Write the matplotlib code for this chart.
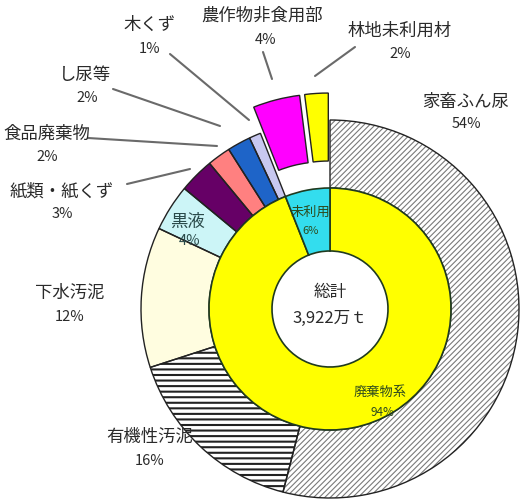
import matplotlib
matplotlib.use('Agg')
import matplotlib.pyplot as plt

plt.rcParams['font.family'] = ['Noto Sans CJK JP', 'DejaVu Sans']
plt.rcParams['hatch.linewidth'] = 1.0

# ---- data ----
outer_labels = ['家畜ふん尿', '有機性汚泥', '下水汚泥', '黒液', '紙類・紙くず',
                '食品廃棄物', 'し尿等', '木くず', '農作物非食用部', '林地未利用材']
outer_values = [54, 16, 12, 4, 3, 2, 2, 1, 4, 2]
inner_labels = ['廃棄物系', '未利用']
inner_values = [94, 6]
total_title = '総計'
total_text = '3,922万ｔ'

# ---- style ----
W, H = 522, 502
outer_colors = ['white', 'white', '#FFFDE0', '#CCF5F7', '#660066', '#FF8080',
                '#1E64C8', '#C8C8F0', '#FF00FF', '#FFFF00']
outer_hatches = ['//////', '---', None, None, None, None, None, None, None, None]
hatch_colors = ['#7a7a7a', '#222222']
EXP = 27
outer_explode = [0, 0, 0, 0, 0, 0, 0, 0, EXP, EXP]
inner_colors = ['#FFFF00', '#33DDEE']
CX, CY = 330, 310
R_OUT, R_MID, R_IN = 189, 121, 58


def P(x, y):
    return x, H - y


fig = plt.figure(figsize=(W / 100, H / 100), dpi=100)
ax = fig.add_axes([0, 0, 1, 1])

center = P(CX, CY)
wedges, _ = ax.pie(outer_values, radius=R_OUT, center=center, startangle=90,
                   counterclock=False, explode=outer_explode, colors=outer_colors,
                   wedgeprops=dict(width=R_OUT - R_MID, linewidth=0), frame=True)
hi = 0
for w, h in zip(wedges, outer_hatches):
    if h:
        w.set_hatch(h)
        w.set_edgecolor(hatch_colors[hi])
        if hasattr(w, 'set_hatch_linewidth'):
            w.set_hatch_linewidth(0.8 if hi == 0 else 1.5)
        hi += 1
ax.pie(outer_values, radius=R_OUT, center=center, startangle=90,
       counterclock=False, explode=outer_explode,
       wedgeprops=dict(width=R_OUT - R_MID, linewidth=1.0, edgecolor='#222222', fill=False),
       frame=True)
ax.pie(inner_values, radius=R_MID, center=center, startangle=90,
       counterclock=False, colors=inner_colors,
       wedgeprops=dict(width=R_MID - R_IN, linewidth=1.2, edgecolor='#1f3a1f'),
       frame=True)

ax.set_xlim(0, W)
ax.set_ylim(0, H)
ax.axis('off')

tc = '#2a2a2a'
fs = 12.5
label_pos = {
    0: (466, 102, 466, 124),
    1: (150, 437, 150, 461),
    2: (70, 293, 70, 317),
    4: (62, 191, 62, 214),
    5: (47, 134, 47, 157),
    6: (85, 75, 87, 98),
    7: (150, 25, 150, 49),
    8: (262, 16, 266, 40),
    9: (400, 31, 400, 54),
}
for i, (x1, y1, x2, y2) in label_pos.items():
    ax.text(*P(x1, y1), outer_labels[i], ha='center', va='center', fontsize=fs, color=tc)
    ax.text(*P(x2, y2), f'{outer_values[i]}%', ha='center', va='center', fontsize=fs - 2, color=tc)

ax.text(*P(187, 222), outer_labels[3], ha='center', va='center', fontsize=fs, color='#2a4a4a')
ax.text(*P(190, 241), f'{outer_values[3]}%', ha='center', va='center', fontsize=fs - 2, color='#2a4a4a')

leaders = [
    ((170, 55), (249, 121)),
    ((113, 90), (220, 127)),
    ((88, 139), (217, 147)),
    ((127, 185), (190, 170)),
    ((263, 53), (272, 80)),
    ((355, 48), (315, 77)),
]
for (x0, y0), (x1, y1) in leaders:
    ax.plot([P(x0, y0)[0], P(x1, y1)[0]], [P(x0, y0)[1], P(x1, y1)[1]],
            color='#6a6a6a', lw=1.5, solid_capstyle='round')

ic = '#2d4a1e'
ax.text(*P(310, 212), inner_labels[1], ha='center', va='center', fontsize=9.5, color=ic)
ax.text(*P(311, 231), f'{inner_values[1]}%', ha='center', va='center', fontsize=8, color=ic)
ax.text(*P(380, 392), inner_labels[0], ha='center', va='center', fontsize=9.5, color=ic)
ax.text(*P(382, 413), f'{inner_values[0]}%', ha='center', va='center', fontsize=8.5, color=ic)

ax.text(*P(330, 293), total_title, ha='center', va='center', fontsize=12, color=tc)
ax.text(*P(330, 318), total_text, ha='center', va='center', fontsize=12, color=tc)

fig.savefig('out.png', dpi=100, facecolor='white')
